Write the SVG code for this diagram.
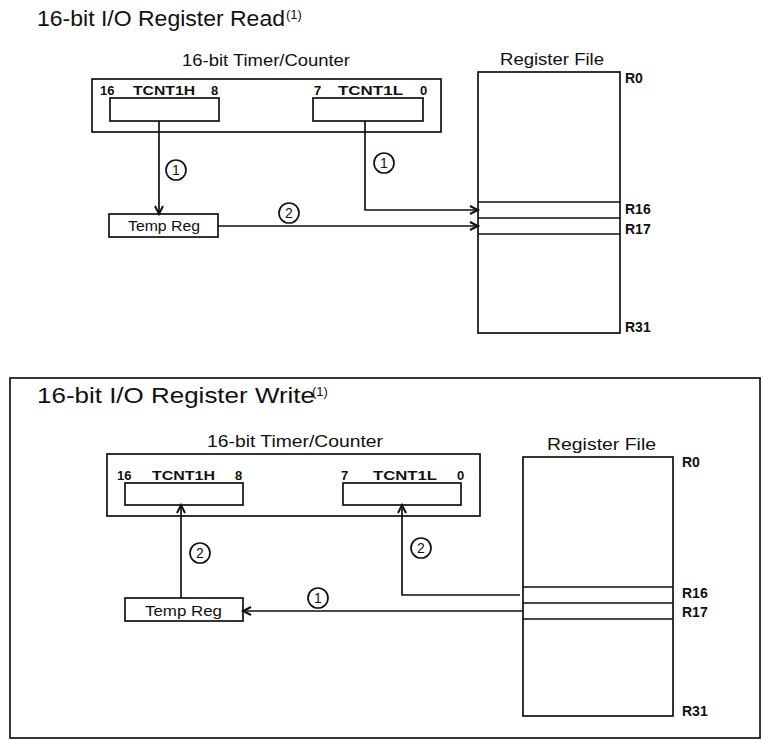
<svg xmlns="http://www.w3.org/2000/svg" width="763" height="740" viewBox="0 0 763 740">
<defs>
<style>
.ln{fill:none;stroke:#111;stroke-width:1.7}
.bx{fill:none;stroke:#111;stroke-width:1.7}
.t{font-family:"Liberation Sans",Arial,sans-serif;fill:#111}
.title{font-size:22px}
.sup{font-size:13px}
.head{font-size:17px}
.lab{font-size:13px;font-weight:bold}
.reg{font-size:14px;font-weight:bold}
.tmp{font-size:14px}
.cn{font-size:14px;text-anchor:middle}
.cc{fill:#fff;stroke:#111;stroke-width:1.7}
</style>
<marker id="ah" markerUnits="userSpaceOnUse" markerWidth="12" markerHeight="12" refX="9" refY="5" orient="auto">
<path d="M1,1 L9,5 L1,9" fill="none" stroke="#111" stroke-width="2"/>
</marker>
</defs>
<rect width="763" height="740" fill="#fff"/>

<!-- ===== TOP: READ ===== -->
<g id="title-read">
<text class="t title" x="37" y="26" textLength="248" lengthAdjust="spacingAndGlyphs">16-bit I/O Register Read</text>
<text class="t sup" x="286" y="19">(1)</text>
</g>
<g id="timer-read">
<text class="t head" x="182" y="66" textLength="168" lengthAdjust="spacingAndGlyphs">16-bit Timer/Counter</text>
<rect class="bx" x="92" y="79" width="349" height="53"/>
<text class="t lab" x="100" y="95">16</text>
<text class="t lab" x="133" y="95" textLength="62" lengthAdjust="spacingAndGlyphs">TCNT1H</text>
<text class="t lab" x="211" y="95">8</text>
<text class="t lab" x="314" y="95">7</text>
<text class="t lab" x="338" y="95" textLength="65" lengthAdjust="spacingAndGlyphs">TCNT1L</text>
<text class="t lab" x="420" y="95">0</text>
</g>
<g id="tcnt1h-read"><rect class="bx" x="110" y="98" width="109" height="23"/></g>
<g id="tcnt1l-read"><rect class="bx" x="313" y="98" width="110" height="23"/></g>
<g id="tempreg-read">
<rect class="bx" x="109" y="214" width="109" height="23"/>
<text class="t tmp" x="128" y="231" textLength="72" lengthAdjust="spacingAndGlyphs">Temp Reg</text>
</g>
<g id="regfile-read">
<text class="t head" x="500" y="65" textLength="104" lengthAdjust="spacingAndGlyphs">Register File</text>
<rect class="bx" x="478" y="72" width="142" height="261"/>
<line class="ln" x1="478" y1="202" x2="620" y2="202"/>
<line class="ln" x1="478" y1="218" x2="620" y2="218"/>
<line class="ln" x1="478" y1="234" x2="620" y2="234"/>
<text class="t reg" x="625" y="83">R0</text>
<text class="t reg" x="625" y="214">R16</text>
<text class="t reg" x="625" y="234">R17</text>
<text class="t reg" x="625" y="332">R31</text>
</g>
<g id="connectors-read">
<line class="ln" x1="159" y1="121" x2="159" y2="214" marker-end="url(#ah)"/>
<polyline class="ln" points="365,121 365,210 478,210" marker-end="url(#ah)"/>
<line class="ln" x1="218" y1="226" x2="478" y2="226" marker-end="url(#ah)"/>
<circle class="cc" cx="176" cy="170" r="10"/><text class="t cn" x="176" y="175">1</text>
<circle class="cc" cx="384" cy="163" r="10"/><text class="t cn" x="384" y="168">1</text>
<circle class="cc" cx="289" cy="213" r="10"/><text class="t cn" x="289" y="218">2</text>
</g>

<!-- ===== BOTTOM: WRITE ===== -->
<g id="frame-write"><rect x="10" y="378" width="750" height="360" fill="none" stroke="#222" stroke-width="1.8"/></g>
<g id="title-write">
<text class="t title" x="37" y="403" textLength="278" lengthAdjust="spacingAndGlyphs">16-bit I/O Register Write</text>
<text class="t sup" x="312" y="396">(1)</text>
</g>
<g id="timer-write">
<text class="t head" x="207" y="447" textLength="176" lengthAdjust="spacingAndGlyphs">16-bit Timer/Counter</text>
<rect class="bx" x="107" y="454" width="373" height="62"/>
<text class="t lab" x="117" y="480">16</text>
<text class="t lab" x="152" y="480" textLength="63" lengthAdjust="spacingAndGlyphs">TCNT1H</text>
<text class="t lab" x="235" y="480">8</text>
<text class="t lab" x="341" y="480">7</text>
<text class="t lab" x="373" y="480" textLength="64" lengthAdjust="spacingAndGlyphs">TCNT1L</text>
<text class="t lab" x="457" y="480">0</text>
</g>
<g id="tcnt1h-write"><rect class="bx" x="125" y="483" width="118" height="22"/></g>
<g id="tcnt1l-write"><rect class="bx" x="343" y="483" width="118" height="22"/></g>
<g id="tempreg-write">
<rect class="bx" x="125" y="598" width="118" height="23"/>
<text class="t tmp" x="145" y="616" textLength="77" lengthAdjust="spacingAndGlyphs">Temp Reg</text>
</g>
<g id="regfile-write">
<text class="t head" x="547" y="450" textLength="109" lengthAdjust="spacingAndGlyphs">Register File</text>
<rect class="bx" x="523" y="457" width="150" height="259"/>
<line class="ln" x1="523" y1="587" x2="673" y2="587"/>
<line class="ln" x1="523" y1="603" x2="673" y2="603"/>
<line class="ln" x1="523" y1="619" x2="673" y2="619"/>
<text class="t reg" x="682" y="467">R0</text>
<text class="t reg" x="682" y="598">R16</text>
<text class="t reg" x="682" y="617">R17</text>
<text class="t reg" x="682" y="716">R31</text>
</g>
<g id="connectors-write">
<line class="ln" x1="181" y1="598" x2="181" y2="505" marker-end="url(#ah)"/>
<polyline class="ln" points="520,595 402,595 402,505" marker-end="url(#ah)"/>
<line class="ln" x1="523" y1="611" x2="243" y2="611" marker-end="url(#ah)"/>
<circle class="cc" cx="200" cy="553" r="10"/><text class="t cn" x="200" y="558">2</text>
<circle class="cc" cx="421" cy="548" r="10"/><text class="t cn" x="421" y="553">2</text>
<circle class="cc" cx="318" cy="598" r="10"/><text class="t cn" x="318" y="603">1</text>
</g>
</svg>
